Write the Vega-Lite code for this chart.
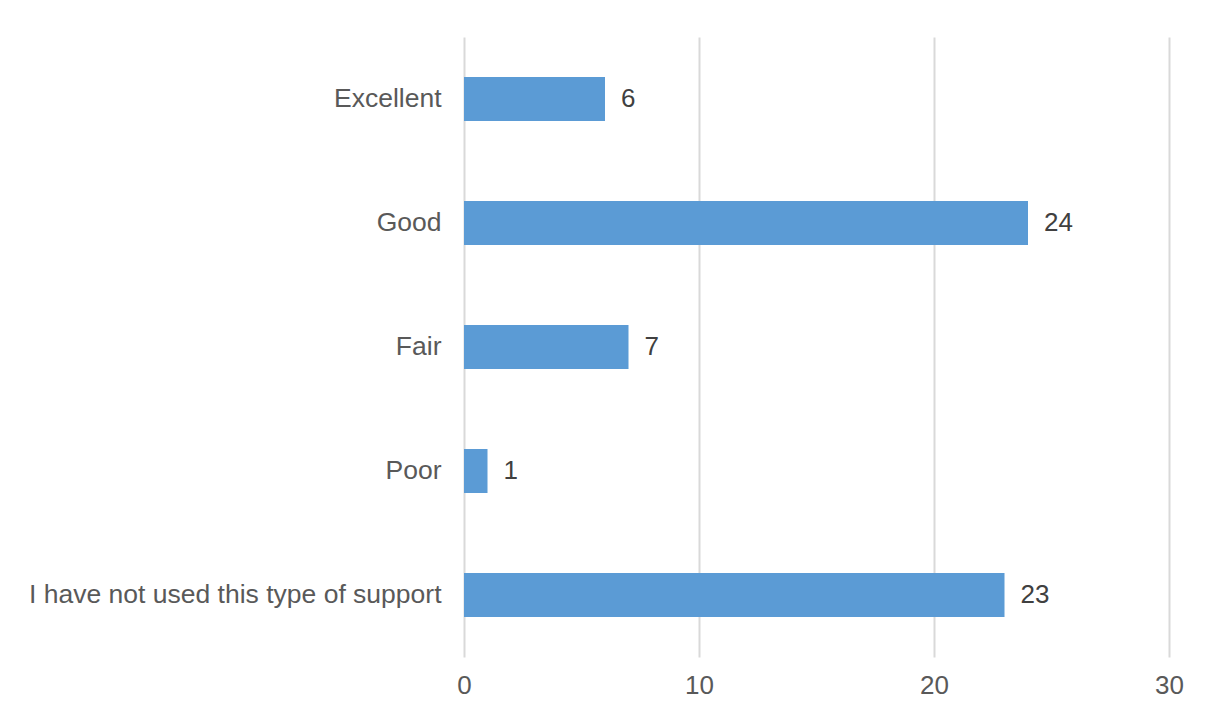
{
  "$schema": "https://vega.github.io/schema/vega-lite/v6.json",
  "width": 705,
  "height": 620,
  "autosize": {"type": "none"},
  "padding": {"left": 464, "top": 37, "right": 46, "bottom": 54},
  "background": "white",
  "config": {
    "font": "Liberation Sans",
    "view": {"stroke": null}
  },
  "data": {
    "values": [
      {"rating": "Excellent", "count": 6},
      {"rating": "Good", "count": 24},
      {"rating": "Fair", "count": 7},
      {"rating": "Poor", "count": 1},
      {"rating": "I have not used this type of support", "count": 23}
    ]
  },
  "encoding": {
    "y": {
      "field": "rating",
      "type": "nominal",
      "sort": null,
      "scale": {"paddingInner": 0.645, "paddingOuter": 0.3225},
      "axis": {
        "title": null,
        "domain": false,
        "ticks": false,
        "labelFont": "Liberation Sans",
        "labelFontSize": 26.5,
        "labelColor": "#595959",
        "labelPadding": 23,
        "labelLimit": 1000
      }
    },
    "x": {
      "field": "count",
      "type": "quantitative",
      "scale": {"domain": [0, 30], "nice": false},
      "axis": {
        "title": null,
        "values": [0, 10, 20, 30],
        "domain": false,
        "ticks": false,
        "grid": true,
        "gridColor": "#D9D9D9",
        "gridWidth": 2,
        "labelFlush": false,
        "labelFont": "Liberation Sans",
        "labelFontSize": 26,
        "labelColor": "#595959",
        "labelPadding": 15
      }
    }
  },
  "layer": [
    {"mark": {"type": "bar", "color": "#5B9BD5"}},
    {
      "mark": {
        "type": "text",
        "align": "left",
        "baseline": "middle",
        "dx": 16,
        "fontSize": 26,
        "color": "#404040",
        "font": "Liberation Sans"
      },
      "encoding": {"text": {"field": "count", "type": "quantitative"}}
    }
  ]
}
